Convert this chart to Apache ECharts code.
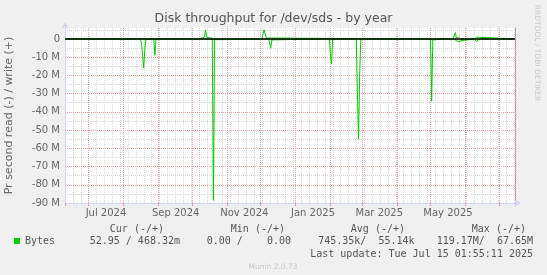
<!DOCTYPE html>
<html><head><meta charset="utf-8">
<script src="https://cdn.jsdelivr.net/npm/echarts@6/dist/echarts.min.js"></script>
<style>html,body{margin:0;padding:0;background:#f0f0f0}#c{width:547px;height:275px}</style>
</head><body><div id="c"></div>
<script>
// ---------- data ----------
const chartTitle = 'Disk throughput for /dev/sds - by year';
const yAxisTitle = 'Pr second read (-) / write (+)';
const startTime = '2024-06-10T01:55:11Z';
const endTime = '2025-07-15T01:55:11Z';
const yMin = -90e6, yMax = 6e6;
const monthNames = ['Jan','Feb','Mar','Apr','May','Jun','Jul','Aug','Sep','Oct','Nov','Dec'];

// read (plotted downward), MB/s
const readDates = ['2024-06-11','2024-06-21','2024-06-22','2024-06-23','2024-07-17','2024-07-18','2024-07-19',
  '2024-08-16','2024-08-17','2024-08-18','2024-08-19','2024-08-20','2024-08-21','2024-08-28','2024-08-29','2024-08-30',
  '2024-10-19','2024-10-20','2024-10-21','2024-10-22','2024-10-23','2024-10-24',
  '2024-12-08','2024-12-09','2024-12-10','2024-12-11','2024-12-12',
  '2025-01-31','2025-02-01','2025-02-02','2025-02-03',
  '2025-02-24','2025-02-25','2025-02-26','2025-02-27','2025-02-28',
  '2025-05-01','2025-05-02','2025-05-03','2025-05-04','2025-05-15','2025-05-16','2025-05-17',
  '2025-05-22','2025-05-23','2025-05-24','2025-05-25','2025-05-26','2025-05-27','2025-05-28','2025-05-29',
  '2025-06-09','2025-06-10','2025-06-11','2025-06-12','2025-06-13','2025-07-14'];
const readValues = [0,0,0.5,0,0,0.6,0,
  0,2,9,16,6,0,0,9,0,
  0,88.5,0,0.4,0.4,0,
  0,0.5,4.8,0.5,0,
  0,8,13.7,0,
  0,30,55,20,0,
  0,34,0.5,0,0,0.3,0,
  0,0.3,1,0.3,1.5,2.2,1,0,
  0,1,1.6,0.8,0,0];

// write (plotted upward), MB/s
const writeDates = ['2024-06-11','2024-06-24','2024-06-25','2024-06-26','2024-08-27','2024-08-28','2024-08-29',
  '2024-10-08','2024-10-09','2024-10-10','2024-10-11','2024-10-12','2024-10-13','2024-10-14','2024-10-15','2024-10-16','2024-10-17','2024-10-18','2024-10-19','2024-10-20',
  '2024-12-02','2024-12-03','2024-12-04','2024-12-05','2024-12-06','2024-12-07',
  '2025-04-06','2025-04-07','2025-04-08',
  '2025-05-21','2025-05-22','2025-05-23','2025-05-24','2025-05-25','2025-05-26','2025-05-27','2025-05-28',
  '2025-06-09','2025-06-10','2025-06-11','2025-06-12','2025-07-14'];
const writeValues = [0,0,0.5,0,0,0.4,0,
  0,0.6,0.6,0.3,1,5,1,0.5,0.6,0.6,0.5,0.5,0,
  0,1,5,4.5,0.5,0,
  0,1,0,
  0,0.5,3.5,0.5,0.3,0.7,0.5,0,
  0,0.8,1,0,0];

const legendHeaders = ['Cur (-/+)','Min (-/+)','Avg (-/+)','Max (-/+)'];
const legendStats = ['52.95 / 468.32m','0.00 /    0.00','745.35k/  55.14k','119.17M/  67.65M'];
const seriesName = 'Bytes';
const lastUpdate = 'Last update: Tue Jul 15 01:55:11 2025';
const footer = 'Munin 2.0.73';
const watermark = 'RRDTOOL / TOBI OETIKER';

// ---------- chart ----------
const DAY = 86400000;
const X0 = Date.parse(startTime), X1 = Date.parse(endTime);
const t = s => Date.parse(s + 'T00:00:00Z');
const readData = readDates.map((d, i) => [t(d), -readValues[i] * 1e6]);
const writeData = writeDates.map((d, i) => [t(d), writeValues[i] * 1e6]);

const AX = '#cfd6f8', MG = '#eba0a0', GR = '#d9d9d9', TXT = '#666';
const SANS = 'DejaVu Sans', MONO = 'DejaVu Sans Mono';

const headerRight = [164, 285, 405, 526];
const statRight = [180, 291, 414.5, 533];
const graphics = [
  {type:'text', left:'center', top:12, style:{text:chartTitle, font:'12.5px "DejaVu Sans"', fill:'#555'}},
  {type:'text', x:537, y:53, rotation:-Math.PI/2, style:{text:watermark, font:'7.5px "DejaVu Sans"', fill:'#c8c8c8', align:'center', verticalAlign:'middle'}},
  {type:'text', x:533, y:254.5, style:{text:lastUpdate, font:'10px "DejaVu Sans Mono"', fill:'#555', align:'right', verticalAlign:'middle'}},
  {type:'text', x:273, y:267.5, style:{text:footer, font:'7.5px "DejaVu Sans"', fill:'#c8c8c8', align:'center', verticalAlign:'middle'}}
];
legendHeaders.forEach((h, i) => graphics.push({type:'text', x:headerRight[i], y:229.5, style:{text:h, font:'10px "DejaVu Sans Mono"', fill:'#555', align:'right', verticalAlign:'middle'}}));
legendStats.forEach((h, i) => graphics.push({type:'text', x:statRight[i], y:241.5, style:{text:h, font:'10px "DejaVu Sans Mono"', fill:'#555', align:'right', verticalAlign:'middle'}}));

const chart = echarts.init(document.getElementById('c'), null, {renderer:'canvas'});
chart.setOption({
  animation:false,
  useUTC:true,
  backgroundColor:'#f0f0f0',
  graphic:graphics,
  legend:{data:[seriesName], left:14, top:236, padding:0, icon:'rect', itemWidth:6, itemHeight:6,
    textStyle:{fontFamily:MONO, fontSize:10, color:'#555'}, selectedMode:false},
  grid:{left:65, right:32, top:28, bottom:72, show:true, backgroundColor:'#fff', borderWidth:0, containLabel:false, outerBoundsMode:'none'},
  xAxis:[
    {type:'time', min:X0, max:X1, minInterval:35*DAY, maxInterval:35*DAY, position:'bottom', z:1,
     axisLine:{show:true, onZero:false, lineStyle:{color:AX, width:1}, symbol:['none','arrow'], symbolSize:[6,7], symbolOffset:[0,6]},
     axisTick:{show:true, length:3, lineStyle:{color:MG}}, axisLabel:{show:false},
     splitLine:{show:true, lineStyle:{color:MG, type:[1,1], width:1}}},
    {type:'value', min:X0, max:X1, interval:7*DAY, position:'top', z:0,
     axisLine:{show:false, onZero:false}, axisTick:{show:false}, axisLabel:{show:false},
     splitLine:{show:true, lineStyle:{color:GR, type:[1,1], width:1}}},
    {type:'time', min:X0 - 15.5*DAY, max:X1 - 15.5*DAY, minInterval:35*DAY, maxInterval:35*DAY, position:'bottom',
     axisLine:{show:false, onZero:false}, axisTick:{show:false}, splitLine:{show:false},
     axisLabel:{show:true, margin:5, color:TXT, fontFamily:SANS, fontSize:10, showMinLabel:false, showMaxLabel:false, hideOverlap:false,
       formatter:function(v){const d=new Date(v); if(d.getUTCDate()!==1||d.getUTCHours()!==0) return ''; const m=d.getUTCMonth(); return m%2===0 ? monthNames[m]+' '+d.getUTCFullYear() : '';}}}
  ],
  yAxis:[
    {type:'value', min:yMin, max:yMax, interval:10e6, position:'left', z:1,
     name:yAxisTitle, nameLocation:'middle', nameGap:50, nameTextStyle:{fontFamily:SANS, fontSize:11, color:TXT},
     axisLine:{show:true, onZero:false, lineStyle:{color:AX, width:1}, symbol:['none','arrow'], symbolSize:[6,7], symbolOffset:[0,6]},
     axisTick:{show:false},
     axisLabel:{margin:5, color:TXT, fontFamily:SANS, fontSize:10, showMaxLabel:false,
       formatter:v => v === 0 ? '0' : (v/1e6) + ' M'},
     splitLine:{show:true, showMaxLine:false, showMinLine:false, lineStyle:{color:MG, type:[1,1], width:1}}},
    {type:'value', min:yMin, max:yMax, interval:5e6, position:'right', z:0,
     axisLine:{show:true, onZero:false, lineStyle:{color:'#999', width:1}}, axisTick:{show:false}, axisLabel:{show:false},
     splitLine:{show:true, showMaxLine:false, showMinLine:false, lineStyle:{color:GR, type:[1,1], width:1}}}
  ],
  series:[
    {name:seriesName, type:'line', xAxisIndex:0, yAxisIndex:0, data:readData, showSymbol:false, symbol:'none',
     lineStyle:{color:'#00cc00', width:1}, itemStyle:{color:'#00cc00'}, z:2},
    {name:seriesName, type:'line', xAxisIndex:0, yAxisIndex:0, data:writeData, showSymbol:false, symbol:'none',
     lineStyle:{color:'#00cc00', width:1}, itemStyle:{color:'#00cc00'}, z:2},
    {name:'zero', type:'line', xAxisIndex:0, yAxisIndex:0, data:[], z:5,
     markLine:{silent:true, symbol:['none','none'], label:{show:false}, lineStyle:{color:'#000', width:1.5, type:'solid'}, data:[{yAxis:0}]}}
  ]
});
</script></body></html>
